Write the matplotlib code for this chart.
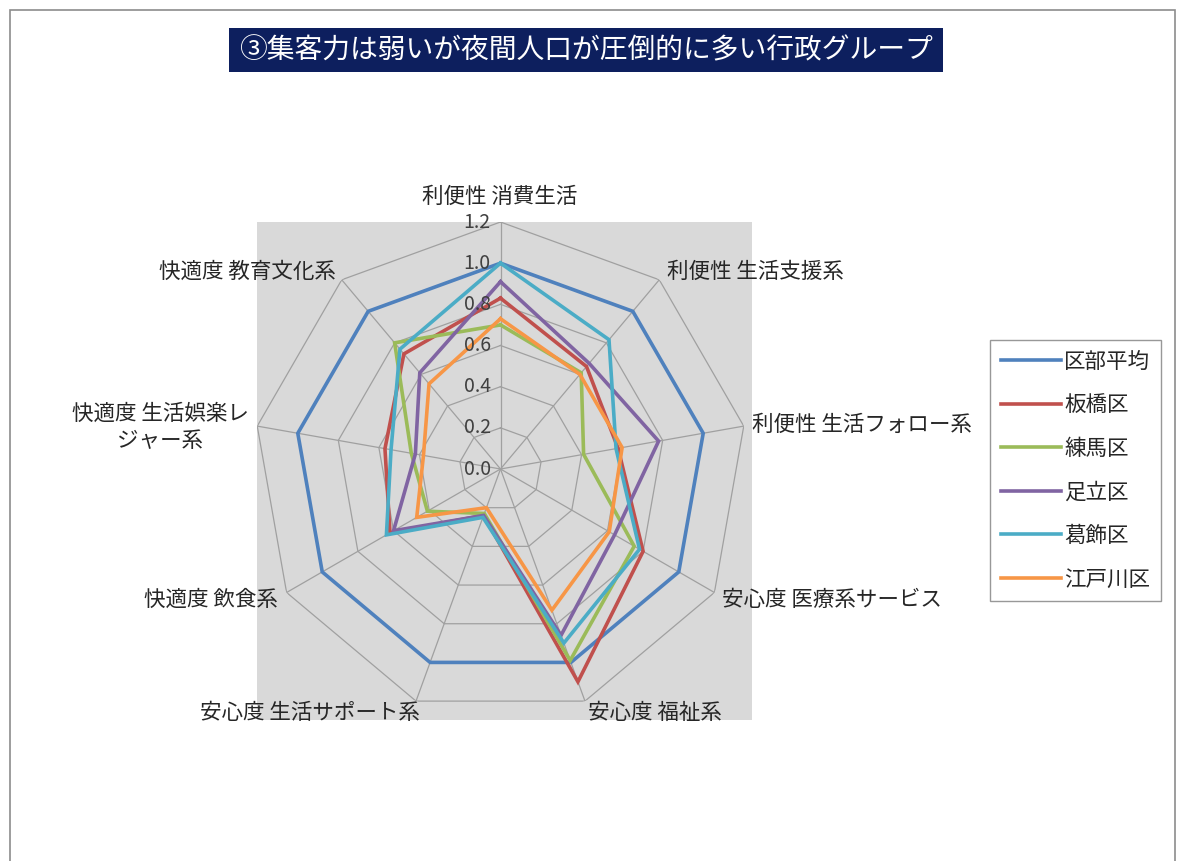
import numpy as np
import matplotlib
matplotlib.use("Agg")
import matplotlib.pyplot as plt
from matplotlib.patches import Rectangle
from matplotlib.transforms import offset_copy

plt.rcParams['font.family'] = ['Noto Sans CJK JP', 'DejaVu Sans']

# ---- data ----
categories = ['利便性 消費生活', '利便性 生活支援系', '利便性 生活フォロー系',
              '安心度 医療系サービス', '安心度 福祉系', '安心度 生活サポート系',
              '快適度 飲食系', '快適度 生活娯楽レジャー系', '快適度 教育文化系']
series_names = ['区部平均', '板橋区', '練馬区', '足立区', '葛飾区', '江戸川区']
avg_vals      = [1.00, 1.00, 1.00, 1.00, 1.00, 1.00, 1.00, 1.00, 1.00]
itabashi_vals = [0.83, 0.65, 0.58, 0.80, 1.10, 0.24, 0.62, 0.57, 0.73]
nerima_vals   = [0.70, 0.61, 0.41, 0.75, 0.99, 0.23, 0.41, 0.44, 0.80]
adachi_vals   = [0.91, 0.67, 0.78, 0.64, 0.86, 0.24, 0.60, 0.42, 0.61]
katsushika_vals = [1.00, 0.82, 0.57, 0.78, 0.90, 0.25, 0.64, 0.54, 0.76]
edogawa_vals  = [0.73, 0.60, 0.60, 0.61, 0.73, 0.20, 0.47, 0.38, 0.54]
radial_ticks = [0.0, 0.2, 0.4, 0.6, 0.8, 1.0, 1.2]
title = '③集客力は弱いが夜間人口が圧倒的に多い行政グループ'

all_vals = [avg_vals, itabashi_vals, nerima_vals, adachi_vals, katsushika_vals, edogawa_vals]
colors = ['#4F81BD', '#C0504D', '#9BBB59', '#8064A2', '#4BACC6', '#F79646']

W, H = 1177, 861
fig = plt.figure(figsize=(W / 100, H / 100), dpi=100)
fig.patch.set_facecolor('white')

def fx(x):
    return x / W

def fy(y):
    return 1 - y / H

# outer border
fig.patches.append(Rectangle((fx(10), fy(875)), fx(1165), (875 - 10) / H,
                             transform=fig.transFigure, fill=False,
                             edgecolor='#8c8c8c', linewidth=1.2, zorder=-2))
# gray plot area
fig.patches.append(Rectangle((fx(257), fy(720)), fx(752 - 257), (720 - 222) / H,
                             transform=fig.transFigure, facecolor='#d9d9d9',
                             edgecolor='none', zorder=-1))
# title box
fig.patches.append(Rectangle((fx(229), fy(72)), fx(943 - 229), (72 - 28) / H,
                             transform=fig.transFigure, facecolor='#0d1f5e',
                             edgecolor='none', zorder=1))
fig.text(fx(586), fy(50), title, color='white', fontsize=20,
         ha='center', va='center', zorder=2)

# polar axes: center (500.5, 469), radius 247 px for 1.2
cx, cy, R = 500.5, 469, 247
ax = fig.add_axes([fx(cx - R), fy(cy + R), 2 * R / W, 2 * R / H], projection='polar')
ax.set_zorder(0)
ax.set_theta_zero_location('N')
ax.set_theta_direction(-1)
ax.set_ylim(0, 1.2)
ax.patch.set_alpha(0)
ax.spines['polar'].set_visible(False)
ax.grid(False)
ax.set_xticks([])
ax.set_yticks([])

n = len(categories)
theta = np.arange(n) * 2 * np.pi / n
theta_c = np.concatenate([theta, theta[:1]])

grid_c = '#a0a0a0'
for r in radial_ticks[1:]:
    ax.plot(theta_c, [r] * (n + 1), color=grid_c, lw=0.9, zorder=1)
for t in theta:
    ax.plot([t, t], [0, 1.2], color=grid_c, lw=0.9, zorder=1)

lines = []
for name, vals, c in zip(series_names, all_vals, colors):
    v = list(vals) + [vals[0]]
    ln, = ax.plot(theta_c, v, color=c, lw=2.6, label=name, zorder=3,
                  solid_joinstyle='miter')
    lines.append(ln)

# radial tick labels
tr = offset_copy(ax.transData, fig=fig, x=-7, y=0, units='points')
for r in radial_ticks:
    ax.text(0, r, f'{r:.1f}', transform=tr, ha='right', va='center',
            fontsize=14, color='#404040', zorder=4)

# category labels (pixel positions)
lab_c = '#262626'
fs = 15.5
cat_display = list(categories)
cat_display[7] = '快適度 生活娯楽レ\nジャー系'
pos = [(500, 197, 'center'), (667, 272, 'left'), (752, 425, 'left'),
       (722, 600, 'left'), (588, 713, 'left'), (420, 713, 'right'),
       (278, 600, 'right'), (160, 427, 'center'), (336, 272, 'right')]
for lab, (x, y, ha) in zip(cat_display, pos):
    fig.text(fx(x), fy(y), lab, ha=ha, va='center', fontsize=fs, color=lab_c,
             multialignment='center', linespacing=1.3)

# legend
leg = fig.legend(handles=lines, labels=series_names, loc='upper left',
                 bbox_to_anchor=(fx(990), fy(340)), fontsize=15.5,
                 frameon=True, fancybox=False, handlelength=2.8,
                 handletextpad=0.15, labelspacing=1.0, borderpad=0.5,
                 borderaxespad=0)
leg.get_frame().set_edgecolor('#7f7f7f')
leg.get_frame().set_linewidth(1.0)
for t in leg.get_texts():
    t.set_color(lab_c)

fig.savefig('out.png', dpi=100)
